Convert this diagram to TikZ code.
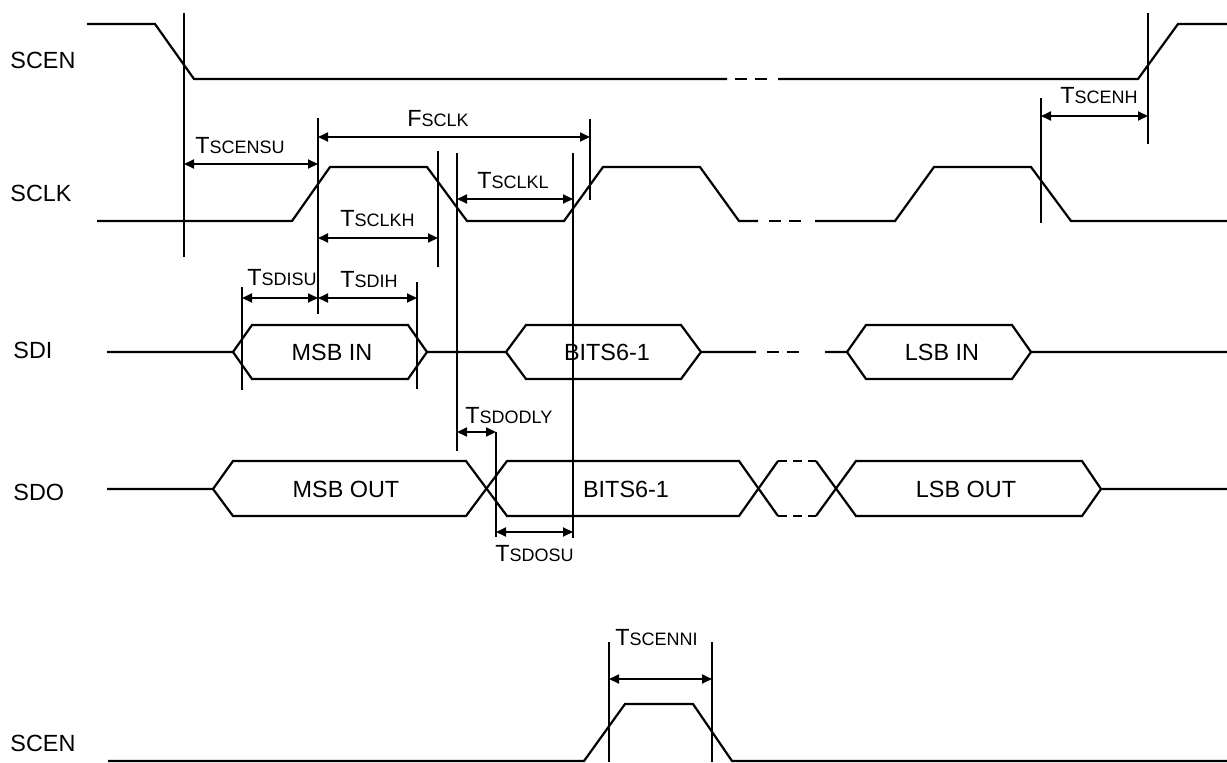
\documentclass[tikz,border=0pt]{standalone}
\usepackage{fontspec}
\setmainfont{Liberation Sans}
\usetikzlibrary{arrows.meta}
\newcommand{\tsub}[2]{#1{\fontsize{9}{10}\selectfont #2}}

\tikzset{
  wave/.style={line width=1.1pt},
  guide/.style={line width=0.9pt},
  skip/.style={line width=1.1pt, dash pattern=on 6pt off 4pt},
  fineskip/.style={line width=1.1pt, dash pattern=on 4.5pt off 3pt},
  span/.style={line width=0.9pt, {Triangle[length=5pt,width=4.5pt]}-{Triangle[length=5pt,width=4.5pt]}},
  sname/.style={font=\fontsize{11.7}{13}\selectfont, anchor=west, inner sep=0pt},
  busname/.style={font=\fontsize{11.7}{13}\selectfont, inner sep=0pt},
  tname/.style={font=\fontsize{11.7}{13}\selectfont, anchor=base west, inner sep=0pt},
}

\begin{document}
\begin{tikzpicture}[x=0.5pt,y=-0.5pt]
          \useasboundingbox (0,0) rectangle (1227,762);

          % signal names
          \node[sname] (scentop) at (10,60) {SCEN};
          \node[sname] (sclk) at (10,193) {SCLK};
          \node[sname] (sdi) at (13,350) {SDI};
          \node[sname] (sdo) at (13,492) {SDO};
          \node[sname] (scenbot) at (10,743) {SCEN};

          % SCEN
          \draw[wave] (87,24) -- (155,24) -- (194,79) -- (727,79);
          \draw[skip] (735,79) -- (767,79);
          \draw[wave] (778,79) -- (1138,79) -- (1178,24) -- (1227,24);

          % SCLK
          \draw[wave] (97,221) -- (292,221) -- (330,167) -- (427,167) -- (467,221) -- (564,221) -- (603,167) -- (700,167) -- (739,221) -- (758,221);
          \draw[skip] (769,221) -- (804,221);
          \draw[wave] (815,221) -- (895,221) -- (934,167) -- (1031,167) -- (1071,221) -- (1227,221);

          % SDI
          \draw[wave] (107,352) -- (233,352) -- (252,325) -- (408,325) -- (427,352) -- (506,352) -- (526,325) -- (681,325) -- (701,352) -- (756,352);
          \draw[wave] (233,352) -- (252,379) -- (408,379) -- (427,352);
          \draw[wave] (506,352) -- (526,379) -- (681,379) -- (701,352);
          \draw[skip] (767,352) -- (804,352);
          \draw[wave] (825,352) -- (847,352) -- (866,325) -- (1012,325) -- (1031,352) -- (1227,352);
          \draw[wave] (847,352) -- (866,379) -- (1012,379) -- (1031,352);

          \node[busname] (msbin) at (332,352) {MSB IN};
          \node[busname] (bitsin) at (607,352) {BITS6-1};
          \node[busname] (lsbin) at (942,352) {LSB IN};

          % SDO
          \draw[wave] (107,489) -- (213,489) -- (233,461) -- (466,461) -- (507,516) -- (739,516) -- (778,461);
          \draw[wave] (213,489) -- (233,516) -- (466,516) -- (507,461) -- (739,461) -- (778,516);
          \draw[fineskip] (778,461) -- (816,461);
          \draw[fineskip] (778,516) -- (816,516);
          \draw[wave] (816,461) -- (856,516) -- (1082,516) -- (1101,489) -- (1227,489);
          \draw[wave] (816,516) -- (856,461) -- (1082,461) -- (1101,489);

          \node[busname] (msbout) at (346,489) {MSB OUT};
          \node[busname] (bitsout) at (626,489) {BITS6-1};
          \node[busname] (lsbout) at (966,489) {LSB OUT};

          % SCEN, second case
          \draw[wave] (108,761) -- (584,761) -- (625,704) -- (693,704) -- (732,761) -- (1227,761);

          % guide lines
          \draw[guide] (184,13) -- (184,257);
          \draw[guide] (318,118) -- (318,314);
          \draw[guide] (590,119) -- (590,200);
          \draw[guide] (438,151) -- (438,267);
          \draw[guide] (457,153) -- (457,451);
          \draw[guide] (573,153) -- (573,538);
          \draw[guide] (1041,98) -- (1041,223);
          \draw[guide] (1148,13) -- (1148,144);
          \draw[guide] (242,287) -- (242,390);
          \draw[guide] (417,282) -- (417,389);
          \draw[guide] (496,432) -- (496,537);
          \draw[guide] (609,642) -- (609,762);
          \draw[guide] (712,642) -- (712,762);

          % timing spans
          \draw[span] (184,164) -- (318,164);
          \draw[span] (318,137) -- (590,137);
          \draw[span] (318,238) -- (438,238);
          \draw[span] (457,199) -- (573,199);
          \draw[span] (1041,116) -- (1148,116);
          \draw[span] (242,298) -- (318,298);
          \draw[span] (318,298) -- (417,298);
          \draw[span] (457,432) -- (496,432);
          \draw[span] (496,532) -- (573,532);
          \draw[span] (609,679) -- (712,679);

          \node[tname] (tscensu) at (195,153) {\tsub{T}{SCENSU}};
          \node[tname] (fsclk) at (407,126) {\tsub{F}{SCLK}};
          \node[tname] (tsclkh) at (340,226) {\tsub{T}{SCLKH}};
          \node[tname] (tsclkl) at (477,188) {\tsub{T}{SCLKL}};
          \node[tname] (tscenh) at (1060,103) {\tsub{T}{SCENH}};
          \node[tname] (tsdisu) at (247,285) {\tsub{T}{SDISU}};
          \node[tname] (tsdih) at (340,287) {\tsub{T}{SDIH}};
          \node[tname] (tsdodly) at (465,423) {\tsub{T}{SDODLY}};
          \node[tname] (tsdosu) at (495,561) {\tsub{T}{SDOSU}};
          \node[tname] (tscenni) at (615,645) {\tsub{T}{SCENNI}};
        \end{tikzpicture}
\end{document}
